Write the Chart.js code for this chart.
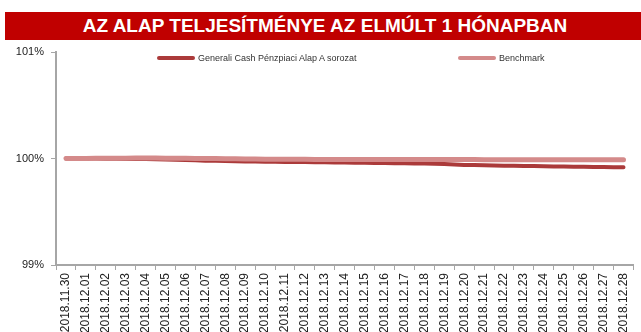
<!DOCTYPE html>
<html>
<head>
<meta charset="utf-8">
<script src="https://cdn.jsdelivr.net/npm/chart.js@4/dist/chart.umd.min.js"></script>
<style>
  html, body { margin: 0; padding: 0; background: #fff; }
  #wrap { position: relative; width: 641px; height: 332px; overflow: hidden; }
  #chart { position: absolute; left: 0; top: 0; }
  #title {
    position: absolute; left: 5px; top: 12px; width: 636px; height: 28px;
    background: #c00000; color: #fff;
    font: bold 19px "Liberation Sans", Arial, sans-serif;
    line-height: 28px; text-align: center; padding-left: 4px; box-sizing: border-box;
  }
  .lg { position: absolute; top: 53px; height: 12px; font: 9px "Liberation Sans", Arial, sans-serif; color: #333; white-space: nowrap; }
  .lg span.sw { display: inline-block; width: 38px; height: 4px; border-radius: 2px; vertical-align: middle; margin-right: 3px; position: relative; top: -1px; }
</style>
</head>
<body>
<div id="wrap">
  <canvas id="chart" width="641" height="332"></canvas>
  <div id="title">AZ ALAP TELJESÍTMÉNYE AZ ELMÚLT 1 HÓNAPBAN</div>
  <div class="lg" style="left:157px"><span class="sw" style="background:#ab3a3a"></span>Generali Cash Pénzpiaci Alap A sorozat</div>
  <div class="lg" style="left:458px"><span class="sw" style="background:#d48a8a"></span>Benchmark</div>
</div>
<script>
// Trading days of the month
const dates = [
  "2018.11.30","2018.12.01","2018.12.02","2018.12.03","2018.12.04","2018.12.05",
  "2018.12.06","2018.12.07","2018.12.08","2018.12.09","2018.12.10","2018.12.11",
  "2018.12.12","2018.12.13","2018.12.14","2018.12.15","2018.12.16","2018.12.17",
  "2018.12.18","2018.12.19","2018.12.20","2018.12.21","2018.12.22","2018.12.23",
  "2018.12.24","2018.12.25","2018.12.26","2018.12.27","2018.12.28"
];

// Indexed performance, percent of the starting value
const fundValues = [
  100.000, 100.000, 99.998, 99.996, 99.995, 99.990, 99.985, 99.980, 99.977, 99.973,
  99.970, 99.968, 99.966, 99.965, 99.962, 99.960, 99.957, 99.955, 99.953, 99.948,
  99.940, 99.936, 99.933, 99.930, 99.927, 99.925, 99.922, 99.920, 99.918
];
const benchmarkValues = [
  100.000, 100.001, 100.002, 100.003, 100.004, 100.003, 100.002, 100.000, 99.998, 99.996,
  99.994, 99.993, 99.992, 99.991, 99.991, 99.991, 99.990, 99.990, 99.990, 99.990,
  99.990, 99.989, 99.989, 99.989, 99.989, 99.988, 99.988, 99.988, 99.988
];

const yTicks = [99, 100, 101];

new Chart(document.getElementById('chart'), {
  type: 'line',
  data: {
    labels: dates,
    datasets: [
      {
        label: 'Generali Cash Pénzpiaci Alap A sorozat',
        data: fundValues,
        borderColor: '#ab3a3a',
        borderWidth: 4,
        pointRadius: 0,
        tension: 0.2,
        borderCapStyle: 'round',
        order: 1
      },
      {
        label: 'Benchmark',
        data: benchmarkValues,
        borderColor: '#d48a8a',
        borderWidth: 5,
        pointRadius: 0,
        tension: 0.2,
        borderCapStyle: 'round',
        order: 0
      }
    ]
  },
  options: {
    responsive: false,
    animation: false,
    layout: { padding: { top: 52, left: 0, right: 6, bottom: 0 } },
    plugins: { legend: { display: false }, title: { display: false }, tooltip: { enabled: false } },
    scales: {
      x: {
        offset: true,
        grid: { display: true, offset: true, drawOnChartArea: false, drawTicks: true, tickLength: 5, color: '#a6a6a6', lineWidth: 1 },
        border: { display: true, color: '#a6a6a6', width: 2 },
        ticks: {
          autoSkip: false, maxRotation: 90, minRotation: 90, padding: 3,
          color: '#222', font: { family: '"Liberation Sans", Arial, sans-serif', size: 12 }
        },
        afterFit: (s) => { s.height = 67; }
      },
      y: {
        min: 99, max: 101,
        afterBuildTicks: (s) => { s.ticks = yTicks.map(v => ({ value: v })); },
        grid: { display: true, drawOnChartArea: false, drawTicks: true, tickLength: 5, color: '#a6a6a6' },
        border: { display: true, color: '#a6a6a6', width: 2 },
        ticks: {
          padding: 7, color: '#222',
          font: { family: '"Liberation Sans", Arial, sans-serif', size: 11 },
          callback: (v) => v + '%'
        },
        afterFit: (s) => { s.width = 56; }
      }
    }
  }
});
</script>
</body>
</html>
